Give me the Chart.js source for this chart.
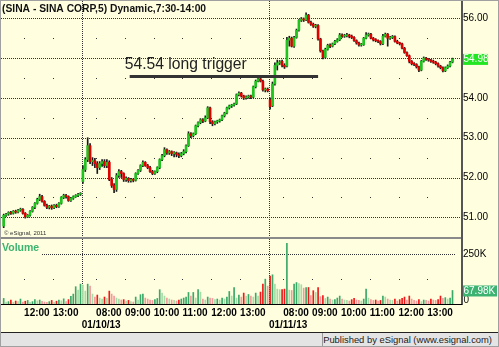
<!DOCTYPE html>
<html>
<head>
<meta charset="utf-8">
<script src="https://cdn.jsdelivr.net/npm/chart.js@4.4.1/dist/chart.umd.min.js"></script>
<style>
  html, body { margin: 0; padding: 0; background: #fff; }
  #wrap { position: relative; width: 499px; height: 347px; box-sizing: border-box; border: 1px solid #a0a0a0; background: #ffffe0; overflow: hidden; }
  #chart { position: absolute; left: 0; top: 0; }
  #footer { position: absolute; left: 0; top: 331px; width: 497px; height: 13px; background: #e4e4e4; border-top: 1px solid #222;
            font: 9.4px "Liberation Sans", Arial, sans-serif; color: #222; }
  #footer span { position: absolute; right: 6px; top: 1px; }
  #footer i { position: absolute; left: 321px; top: 0; width: 1px; height: 13px; background: #999; }
</style>
</head>
<body>
<div id="wrap">
  <canvas id="chart" width="497" height="331"></canvas>
  <div id="footer"><i></i><span>Published by eSignal (www.esignal.com)</span></div>
</div>
<script>
// 5 minute bars, 01/09 (from 11:15), 01/10 and 01/11/13
const firstBar = -33; // bar index relative to the 01/10 open

const open = [
  50.78,51.05,51.08,51.12,51.10,51.15,51.13,51.18,51.20,51.10,51.01,51.05,51.15,51.25,51.35,51.45,51.52,51.40,51.30,51.25,51.28,51.24,51.30,51.27,51.35,51.50,51.55,51.52,51.42,51.48,51.52,51.55,51.58,
  51.90,52.20,52.45,52.80,52.40,52.42,52.35,52.25,52.35,52.40,52.30,52.38,51.95,51.80,51.70,52.05,52.15,52.10,51.95,51.98,
  51.92,51.95,51.93,52.10,52.18,52.30,52.38,52.30,52.25,52.15,52.10,52.15,52.25,52.45,52.55,52.70,52.62,52.65,52.60,52.62,
  52.58,52.55,52.60,52.65,52.80,53.10,53.05,53.10,53.30,53.38,53.45,53.42,53.50,53.75,53.40,53.35,53.40,53.42,53.45,53.55,
  53.62,53.75,53.80,53.82,53.85,54.08,54.12,54.05,54.00,54.02,54.05,54.02,54.28,54.42,54.48,54.42,54.20,54.22,
  53.95,53.80,54.35,54.82,54.88,54.92,54.82,54.80,55.45,55.50,55.30,55.52,55.70,55.95,55.98,55.96,56.08,55.90,55.85,55.80,
  55.82,55.48,55.18,55.02,55.22,55.32,55.30,55.36,55.42,55.46,55.58,55.55,55.56,55.58,55.55,55.52,55.44,55.38,55.33,55.34,
  55.50,55.58,55.60,55.50,55.46,55.44,55.42,55.36,55.55,55.60,55.50,55.52,55.54,55.42,55.38,55.36,55.25,55.14,55.06,54.92,
  54.86,54.84,54.78,54.70,54.92,55.00,54.97,54.95,54.92,54.90,54.86,54.80,54.76,54.68,54.76,54.80,54.90
];
const high = [
  51.08,51.10,51.14,51.15,51.17,51.18,51.20,51.23,51.22,51.12,51.07,51.17,51.27,51.37,51.48,51.58,51.55,51.42,51.33,51.30,51.31,51.32,51.33,51.37,51.52,51.58,51.58,51.54,51.50,51.54,51.57,51.60,51.62,
  52.30,52.50,53.00,52.85,52.50,52.48,52.40,52.40,52.45,52.45,52.45,52.42,52.00,51.85,52.10,52.20,52.18,52.12,52.02,52.00,
  51.98,51.97,52.12,52.20,52.32,52.42,52.40,52.33,52.28,52.18,52.17,52.27,52.47,52.58,52.75,52.72,52.68,52.67,52.65,52.64,
  52.62,52.63,52.70,52.82,53.15,53.13,53.12,53.32,53.40,53.48,53.48,53.55,53.78,53.77,53.43,53.42,53.44,53.47,53.57,53.64,
  53.77,53.82,53.84,53.87,54.10,54.15,54.14,54.07,54.05,54.07,54.07,54.30,54.45,54.52,54.50,54.45,54.25,54.25,
  54.00,54.40,54.88,54.95,54.94,54.95,54.86,55.52,55.55,55.53,55.55,55.73,55.97,56.02,56.01,56.14,56.10,55.93,55.88,55.85,
  55.84,55.50,55.20,55.25,55.35,55.36,55.38,55.45,55.49,55.62,55.61,55.60,55.62,55.60,55.58,55.54,55.46,55.40,55.37,55.52,
  55.64,55.63,55.62,55.52,55.49,55.46,55.44,55.60,55.63,55.62,55.55,55.57,55.56,55.45,55.40,55.38,55.27,55.16,55.08,54.94,
  54.89,54.86,54.80,54.94,55.03,55.02,54.99,54.97,54.95,54.92,54.88,54.82,54.78,54.78,54.83,54.92,55.00
];
const low = [
  50.74,51.02,51.05,51.07,51.08,51.10,51.11,51.15,51.08,50.98,50.99,51.03,51.13,51.22,51.33,51.42,51.38,51.28,51.22,51.21,51.20,51.22,51.24,51.25,51.33,51.47,51.48,51.40,51.40,51.45,51.50,51.52,51.55,
  51.85,52.15,52.40,52.35,52.30,52.25,52.10,52.20,52.28,52.25,52.25,51.92,51.75,51.62,51.65,52.00,52.00,51.90,51.90,51.88,
  51.88,51.89,51.91,52.08,52.15,52.27,52.28,52.22,52.13,52.07,52.08,52.12,52.22,52.42,52.52,52.58,52.58,52.55,52.52,52.52,
  52.50,52.52,52.57,52.62,52.78,53.00,53.02,53.08,53.27,53.35,53.38,53.40,53.48,53.35,53.30,53.32,53.36,53.39,53.43,53.52,
  53.60,53.72,53.76,53.79,53.83,54.05,54.02,53.96,53.97,53.99,53.98,54.00,54.25,54.40,54.40,54.17,54.15,54.15,
  53.72,53.78,54.32,54.70,54.84,54.78,54.74,54.78,55.30,55.28,55.27,55.50,55.68,55.92,55.92,55.94,55.88,55.82,55.77,55.76,
  55.45,55.15,54.98,55.00,55.20,55.26,55.28,55.34,55.40,55.44,55.52,55.52,55.53,55.51,55.49,55.42,55.35,55.30,55.30,55.32,
  55.48,55.55,55.48,55.43,55.41,55.39,55.33,55.34,55.53,55.30,55.47,55.49,55.40,55.36,55.33,55.23,55.12,55.04,54.88,54.83,
  54.81,54.75,54.66,54.68,54.90,54.94,54.92,54.89,54.87,54.83,54.77,54.73,54.65,54.66,54.74,54.78,54.88
];
const close = [
  51.05,51.08,51.12,51.10,51.15,51.13,51.18,51.20,51.10,51.01,51.05,51.15,51.25,51.35,51.45,51.52,51.40,51.30,51.25,51.28,51.24,51.30,51.27,51.35,51.50,51.55,51.52,51.42,51.48,51.52,51.55,51.58,51.60,
  52.20,52.45,52.80,52.40,52.42,52.35,52.25,52.35,52.40,52.30,52.38,51.95,51.80,51.70,52.05,52.15,52.10,51.95,51.98,51.92,
  51.95,51.93,52.10,52.18,52.30,52.38,52.30,52.25,52.15,52.10,52.15,52.25,52.45,52.55,52.70,52.62,52.65,52.60,52.62,52.58,
  52.55,52.60,52.65,52.80,53.10,53.05,53.10,53.30,53.38,53.45,53.42,53.50,53.75,53.40,53.35,53.40,53.42,53.45,53.55,53.62,
  53.75,53.80,53.82,53.85,54.08,54.12,54.05,54.00,54.02,54.05,54.02,54.28,54.42,54.48,54.42,54.20,54.22,54.18,
  53.78,54.35,54.82,54.88,54.90,54.82,54.78,55.45,55.50,55.30,55.52,55.70,55.95,55.98,55.96,56.08,55.90,55.85,55.80,55.82,
  55.48,55.18,55.02,55.22,55.32,55.30,55.36,55.42,55.46,55.58,55.55,55.56,55.58,55.55,55.52,55.44,55.38,55.33,55.34,55.50,
  55.58,55.60,55.50,55.46,55.44,55.42,55.36,55.55,55.60,55.50,55.52,55.54,55.42,55.38,55.36,55.25,55.14,55.06,54.92,54.86,
  54.84,54.78,54.70,54.92,55.00,54.97,54.95,54.92,54.90,54.86,54.80,54.76,54.68,54.76,54.80,54.90,54.98
];
// volume in thousands
const volume = [
  28,10,12,20,8,15,12,25,10,14,18,8,12,22,16,20,14,10,9,12,18,8,14,20,16,26,12,22,38,50,87,70,100,
  95,65,100,90,50,35,45,30,25,35,28,65,50,40,30,25,20,22,15,18,
  12,10,35,20,47,50,30,25,20,18,22,28,72,55,40,30,25,20,18,15,
  20,25,30,35,58,40,58,30,72,60,25,20,35,30,28,22,25,20,30,25,
  35,63,40,83,30,45,35,55,40,48,40,35,55,40,60,100,125,90,
  140,147,100,75,72,72,75,305,70,68,100,108,103,97,80,83,83,42,67,58,
  83,37,42,28,35,25,20,22,30,40,25,20,18,15,22,28,20,18,15,25,
  75,30,22,18,20,15,18,40,35,25,20,18,25,15,22,28,35,20,40,25,
  18,15,22,12,20,18,15,25,20,18,22,40,28,32,25,30,67.98
];

// axis ticks (in bars from the 01/10 open)
const timeTicks = [-24, -12, 6, 18, 30, 42, 54, 66, 84, 96, 108, 120, 132, 144];
const timeLabels = ['12:00','13:00','08:00','09:00','10:00','11:00','12:00','13:00','08:00','09:00','10:00','11:00','12:00','13:00'];
const dayTicks = [0, 78];
const dayLabels = ['01/10/13', '01/11/13'];
const priceTicks = [51, 52, 53, 54, 55, 56];
const volTicks = [0, 250];

const trigger = 54.54;
const triggerFrom = 20, triggerTo = 98.5;

const GREEN = '#1fc41f', RED = '#e00000';
const wicks = [], bodies = [], vols = [], bodyColors = [], volColors = [];
for (let i = 0; i < close.length; i++) {
  const x = firstBar + i + 0.5;
  const up = close[i] >= open[i];
  wicks.push({x: x, y: [low[i], high[i]]});
  bodies.push({x: x, y: [open[i], close[i]]});
  vols.push({x: x, y: volume[i]});
  bodyColors.push(up ? GREEN : RED);
  const rising = i == 0 || volume[i] >= volume[i - 1];
  if (up) volColors.push(rising ? '#3aa968' : '#a6dca6');
  else volColors.push(rising ? '#f01818' : '#f59a9a');
}

function hDots(c, x1, x2, y) {
  for (let px = Math.round(x1); px < x2; px += 2) c.fillRect(px, Math.round(y), 1, 1);
}
function vDots(c, x, y1, y2) {
  for (let py = Math.round(y1); py < y2; py += 2) c.fillRect(Math.round(x), py, 1, 1);
}

const overlay = {
  id: 'overlay',
  beforeDatasetsDraw(chart) {
    const c = chart.ctx, a = chart.chartArea, xs = chart.scales.x, ys = chart.scales.y, vs = chart.scales.v;
    c.save();
    c.fillStyle = '#333';
    priceTicks.forEach(p => hDots(c, 0, a.right, ys.getPixelForValue(p)));
    hDots(c, 41, a.right - 5, vs.getPixelForValue(volTicks[1]));
    dayTicks.forEach(d => vDots(c, xs.getPixelForValue(d), 0, a.bottom));
    timeTicks.forEach(t => {
      const px = Math.round(xs.getPixelForValue(t));
      for (let p = 50.5; p < 56.2; p += 1) c.fillRect(px, Math.round(ys.getPixelForValue(p)), 1, 1);
      c.fillRect(px, Math.round(vs.getPixelForValue(125)), 1, 1);
    });
    c.restore();
  },
  afterDraw(chart) {
    const c = chart.ctx, a = chart.chartArea, xs = chart.scales.x, ys = chart.scales.y, vs = chart.scales.v;
    c.save();
    // frame lines
    c.fillStyle = '#8a8a8a';
    c.fillRect(0, Math.round(ys.bottom) - 1, a.right, 2);
    c.fillStyle = '#555';
    c.fillRect(Math.round(a.right), 0, 2, Math.round(a.bottom) + 1);
    c.fillStyle = '#000';
    c.fillRect(0, Math.round(a.bottom), Math.round(a.right) + 1, 1);

    c.textBaseline = 'alphabetic';
    c.fillStyle = '#111';
    c.font = 'bold 10.3px "Liberation Sans", Arial, sans-serif';
    c.fillText('(SINA - SINA CORP,5) Dynamic,7:30-14:00', 1, 11);

    c.font = '6px "Liberation Sans", Arial, sans-serif';
    c.fillStyle = '#333';
    c.fillText('\u00a9 eSignal, 2011', 3, 234);

    c.fillStyle = '#3cb371';
    c.font = 'bold 10.5px "Liberation Sans", Arial, sans-serif';
    c.fillText('Volume', 1, vs.top + 13);

    c.fillStyle = '#222';
    c.font = '15.7px "Liberation Sans", Arial, sans-serif';
    c.fillText(trigger.toFixed(2) + ' long trigger', xs.getPixelForValue(triggerFrom) - 5, ys.getPixelForValue(trigger) - 7);

    // last value boxes
    const last = close[close.length - 1];
    let py = ys.getPixelForValue(last);
    c.fillStyle = '#22e622';
    c.fillRect(a.right + 2, py - 5, 25, 11);
    c.fillStyle = '#fff';
    c.font = '10px "Liberation Sans", Arial, sans-serif';
    c.textBaseline = 'middle';
    c.fillText(last.toFixed(2), a.right + 2.5, py + 0.5);

    c.fillStyle = '#111';
    c.fillText('0', a.right + 2.5, vs.getPixelForValue(0) - 4);

    const lv = volume[volume.length - 1];
    py = vs.getPixelForValue(lv);
    c.fillStyle = '#3cb371';
    c.fillRect(a.right + 2, py - 5, 34, 11);
    c.fillStyle = '#fff';
    c.fillText(lv.toFixed(2) + 'K', a.right + 2.5, py + 0.5);
    c.restore();
  }
};

const noPad = axis => { axis.paddingTop = 0; axis.paddingBottom = 0; axis.paddingLeft = 0; axis.paddingRight = 0; };

new Chart(document.getElementById('chart'), {
  type: 'bar',
  data: {
    datasets: [
      { type: 'line', data: [{x: triggerFrom, y: trigger}, {x: triggerTo, y: trigger}], yAxisID: 'y',
        borderColor: '#333', borderWidth: 3, pointRadius: 0, order: 0 },
      { data: bodies, yAxisID: 'y', backgroundColor: bodyColors, barThickness: 2, grouped: false, minBarLength: 1, order: 1 },
      { data: wicks, yAxisID: 'y', backgroundColor: '#1a1a1a', barThickness: 1, grouped: false, order: 2 },
      { data: vols, yAxisID: 'v', backgroundColor: volColors, barThickness: 1, grouped: false, order: 3 }
    ]
  },
  options: {
    responsive: false,
    animation: false,
    events: [],
    layout: { padding: { left: 1, top: 1, right: 0, bottom: 0 } },
    plugins: { legend: { display: false }, tooltip: { enabled: false } },
    scales: {
      x: {
        type: 'linear', min: -33.2, max: 158.04, offset: false,
        afterBuildTicks: axis => { axis.ticks = timeTicks.concat(dayTicks).sort((p, q) => p - q).map(v => ({value: v})); },
        afterFit: axis => { axis.height = 28; noPad(axis); },
        ticks: {
          autoSkip: false, maxRotation: 0, align: 'start', padding: 3, color: '#000',
          font: { family: '"Liberation Sans", Arial, sans-serif', size: 10, weight: 'bold' },
          callback: v => {
            const d = dayTicks.indexOf(v);
            if (d >= 0) return ['', dayLabels[d]];
            return timeLabels[timeTicks.indexOf(v)];
          }
        },
        grid: { display: false, drawTicks: false, offset: false },
        border: { display: false }
      },
      y: {
        position: 'right', stack: 'panes', stackWeight: 236, min: 50.48, max: 56.41,
        afterBuildTicks: axis => { axis.ticks = priceTicks.map(v => ({value: v})); },
        afterFit: axis => { axis.width = 37; noPad(axis); },
        ticks: {
          padding: 2, color: '#000',
          font: { family: '"Liberation Sans", Arial, sans-serif', size: 10 },
          callback: v => v == 55 ? '' : v.toFixed(2)
        },
        grid: { display: false, drawTicks: false },
        border: { display: false }
      },
      v: {
        position: 'right', stack: 'panes', stackWeight: 66, min: 0, max: 332,
        afterBuildTicks: axis => { axis.ticks = volTicks.map(v => ({value: v})); },
        afterFit: axis => { axis.width = 37; noPad(axis); },
        ticks: {
          padding: 2, color: '#000',
          font: { family: '"Liberation Sans", Arial, sans-serif', size: 10 },
          callback: v => v == 250 ? '250K' : ''
        },
        grid: { display: false, drawTicks: false },
        border: { display: false }
      }
    }
  },
  plugins: [overlay]
});
</script>
</body>
</html>
